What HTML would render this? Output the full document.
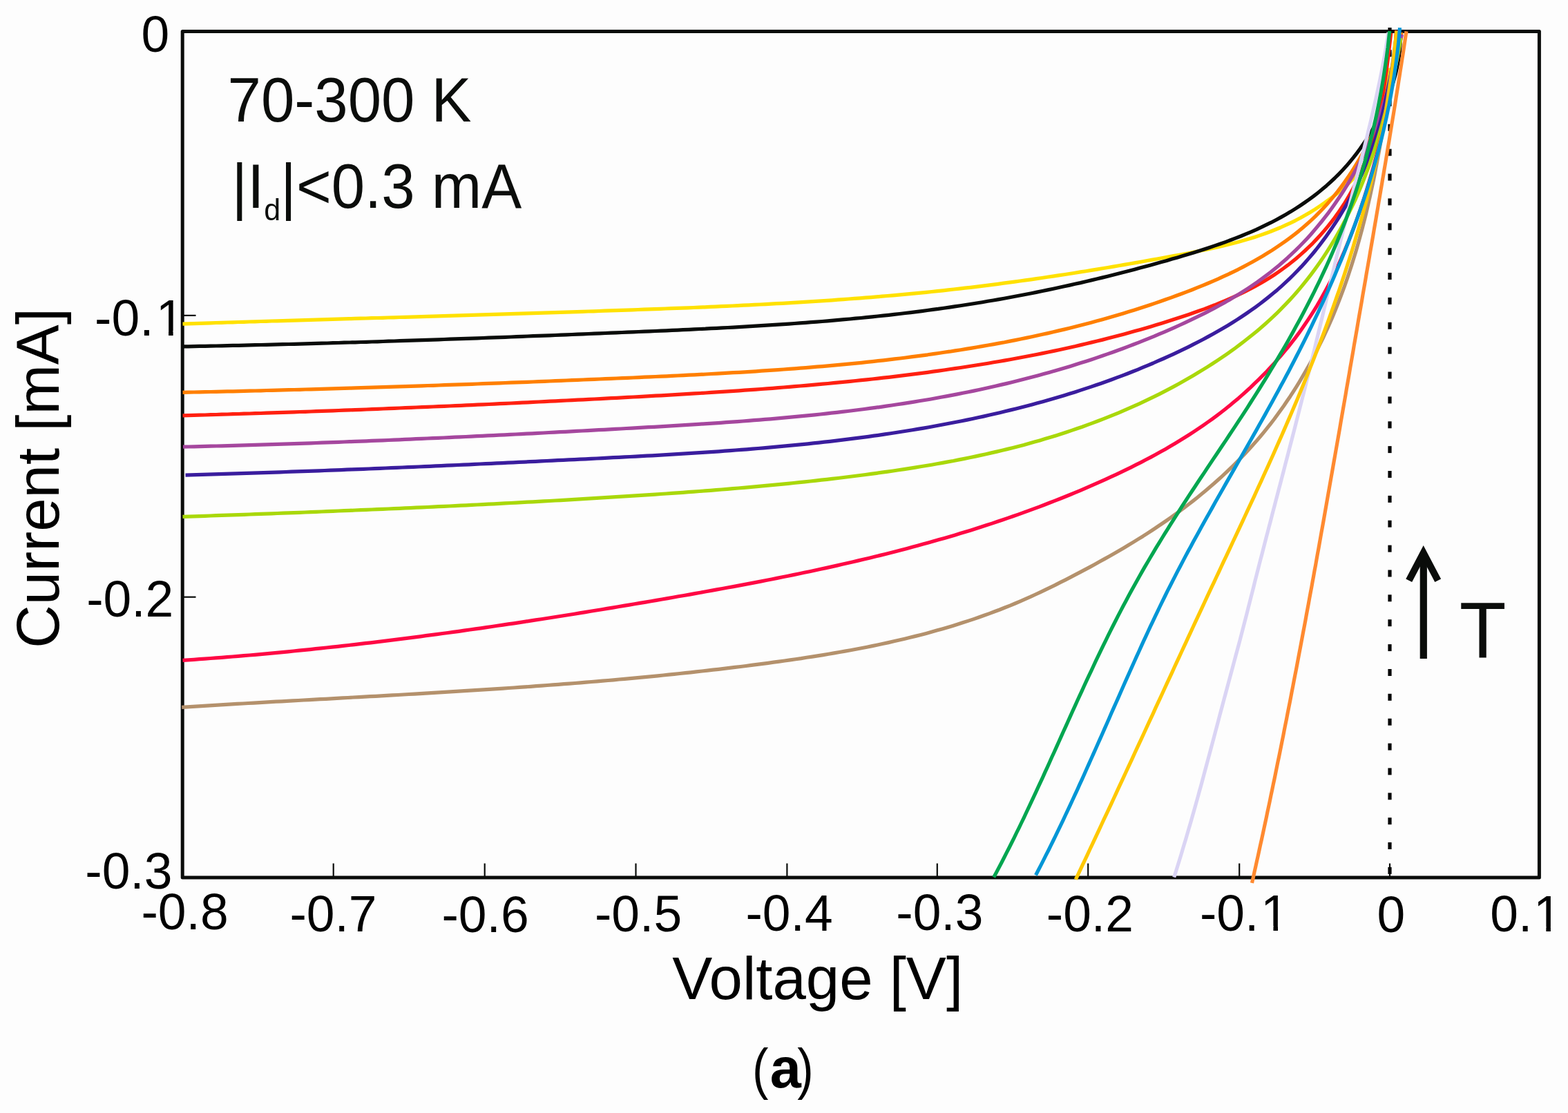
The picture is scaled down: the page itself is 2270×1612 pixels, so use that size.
<!DOCTYPE html>
<html lang="en"><head><meta charset="utf-8"><title>I-V curves 70-300 K</title>
<style>html,body{margin:0;padding:0;background:#fdfdfd;overflow:hidden}svg{display:block}text{font-family:"Liberation Sans",Arial,Helvetica,sans-serif;fill:#000}.t{font-size:73.2px}.l{font-size:87px}.in{fill:#0b0d0b}.c{fill:none;stroke-width:5.2;stroke-linecap:butt;stroke-linejoin:round}.ax{stroke:#0a0c0a;fill:none}</style></head><body>
<svg xmlns="http://www.w3.org/2000/svg" width="2270" height="1612" viewBox="0 0 2270 1612">
<rect x="0" y="0" width="2270" height="1612" fill="#fdfdfd"/>
<g class="ax">
<rect x="264.2" y="45.5" width="1964.2" height="1225.6" stroke-width="5" stroke-linejoin="round"/>
<line x1="482.7" y1="1250.5" x2="482.7" y2="1270" stroke-width="2.2"/>
<line x1="701.7" y1="1250.5" x2="701.7" y2="1270" stroke-width="2.2"/>
<line x1="920.5" y1="1250.5" x2="920.5" y2="1270" stroke-width="2.2"/>
<line x1="1139.4" y1="1250.5" x2="1139.4" y2="1270" stroke-width="2.2"/>
<line x1="1356.8" y1="1250.5" x2="1356.8" y2="1270" stroke-width="2.2"/>
<line x1="1575.2" y1="1250.5" x2="1575.2" y2="1270" stroke-width="2.2"/>
<line x1="1794.2" y1="1250.5" x2="1794.2" y2="1270" stroke-width="2.2"/>
<line x1="2012" y1="1250.5" x2="2012" y2="1270" stroke-width="2.2"/>
<line x1="264" y1="456.9" x2="283.5" y2="456.9" stroke-width="2.2"/>
<line x1="264" y1="864.7" x2="283.5" y2="864.7" stroke-width="2.2"/>
</g>
<g fill="#050505">
<rect x="2009.4" y="40" width="5.2" height="6.3"/>
<rect x="2009.4" y="72.2" width="5.2" height="10"/>
<rect x="2009.4" y="108.1" width="5.2" height="10"/>
<rect x="2009.4" y="143.9" width="5.2" height="10"/>
<rect x="2009.4" y="179.8" width="5.2" height="10"/>
<rect x="2009.4" y="215.7" width="5.2" height="10"/>
<rect x="2009.4" y="251.6" width="5.2" height="10"/>
<rect x="2009.4" y="287.4" width="5.2" height="10"/>
<rect x="2009.4" y="323.3" width="5.2" height="10"/>
<rect x="2009.4" y="359.2" width="5.2" height="10"/>
<rect x="2009.4" y="395.0" width="5.2" height="10"/>
<rect x="2009.4" y="430.9" width="5.2" height="10"/>
<rect x="2009.4" y="466.8" width="5.2" height="10"/>
<rect x="2009.4" y="502.6" width="5.2" height="10"/>
<rect x="2009.4" y="538.5" width="5.2" height="10"/>
<rect x="2009.4" y="574.4" width="5.2" height="10"/>
<rect x="2009.4" y="610.3" width="5.2" height="10"/>
<rect x="2009.4" y="646.1" width="5.2" height="10"/>
<rect x="2009.4" y="682.0" width="5.2" height="10"/>
<rect x="2009.4" y="717.9" width="5.2" height="10"/>
<rect x="2009.4" y="753.7" width="5.2" height="10"/>
<rect x="2009.4" y="789.6" width="5.2" height="10"/>
<rect x="2009.4" y="825.5" width="5.2" height="10"/>
<rect x="2009.4" y="861.3" width="5.2" height="10"/>
<rect x="2009.4" y="897.2" width="5.2" height="10"/>
<rect x="2009.4" y="933.1" width="5.2" height="10"/>
<rect x="2009.4" y="969.0" width="5.2" height="10"/>
<rect x="2009.4" y="1004.8" width="5.2" height="10"/>
<rect x="2009.4" y="1040.7" width="5.2" height="10"/>
<rect x="2009.4" y="1076.6" width="5.2" height="10"/>
<rect x="2009.4" y="1112.4" width="5.2" height="10"/>
<rect x="2009.4" y="1148.3" width="5.2" height="10"/>
<rect x="2009.4" y="1184.2" width="5.2" height="10"/>
<rect x="2009.4" y="1220.0" width="5.2" height="10"/>
<rect x="2009.4" y="1255.9" width="5.2" height="10"/>
</g>
<g class="c">
<path stroke="#FFE100" d="M264.5,469.1L272.5,468.8L280.6,468.6L288.6,468.3L296.7,468.1L304.7,467.8L312.7,467.5L320.8,467.3L328.8,467.0L336.9,466.8L344.9,466.5L352.9,466.3L361.0,466.0L369.0,465.8L377.1,465.5L385.1,465.3L393.1,465.0L401.2,464.8L409.2,464.6L417.2,464.3L425.3,464.1L433.3,463.8L441.4,463.6L449.4,463.3L457.4,463.1L465.5,462.9L473.5,462.6L481.5,462.4L489.6,462.2L497.6,461.9L505.7,461.7L513.7,461.4L521.7,461.2L529.8,461.0L537.8,460.7L545.8,460.5L553.9,460.3L561.9,460.0L570.0,459.8L578.0,459.5L586.0,459.3L594.1,459.1L602.1,458.8L610.1,458.6L618.2,458.3L626.2,458.1L634.3,457.9L642.3,457.6L650.3,457.4L658.4,457.1L666.4,456.9L674.4,456.7L682.5,456.4L690.5,456.2L698.6,455.9L706.6,455.7L714.6,455.4L722.7,455.2L730.7,454.9L738.7,454.7L746.8,454.4L754.8,454.2L762.9,453.9L770.9,453.7L778.9,453.4L787.0,453.2L795.0,452.9L803.0,452.6L811.1,452.4L819.1,452.1L827.2,451.8L835.2,451.6L843.2,451.3L851.3,451.0L859.3,450.8L867.3,450.5L875.4,450.2L883.4,449.9L891.5,449.7L899.5,449.4L907.5,449.1L915.6,448.8L923.6,448.5L931.7,448.2L939.7,447.9L947.7,447.6L955.8,447.3L963.8,447.0L971.8,446.7L979.9,446.4L987.9,446.1L996.0,445.8L1004.0,445.5L1012.0,445.1L1020.1,444.8L1028.1,444.4L1036.1,444.1L1044.2,443.7L1052.2,443.4L1060.2,443.0L1068.3,442.6L1076.3,442.2L1084.3,441.8L1092.4,441.4L1100.4,441.0L1108.4,440.6L1116.5,440.2L1124.5,439.7L1132.5,439.3L1140.6,438.8L1148.6,438.4L1156.6,437.9L1164.6,437.4L1172.7,436.9L1180.7,436.4L1188.7,435.8L1196.7,435.3L1204.7,434.8L1212.8,434.2L1220.8,433.6L1228.8,433.0L1236.8,432.4L1244.8,431.8L1252.8,431.2L1260.9,430.6L1268.9,429.9L1276.9,429.2L1284.9,428.5L1292.9,427.8L1300.9,427.1L1308.9,426.4L1316.9,425.6L1324.9,424.9L1332.9,424.1L1340.9,423.3L1348.9,422.5L1356.9,421.6L1364.9,420.8L1372.9,419.9L1380.9,419.0L1388.9,418.1L1396.8,417.2L1404.8,416.3L1412.8,415.3L1420.8,414.3L1428.8,413.3L1436.7,412.3L1444.7,411.3L1452.7,410.2L1460.7,409.2L1468.6,408.1L1476.6,407.0L1484.6,405.9L1492.5,404.8L1500.5,403.6L1508.5,402.5L1516.4,401.3L1524.4,400.1L1532.4,398.9L1540.3,397.7L1548.3,396.5L1556.2,395.2L1564.2,393.9L1572.1,392.7L1580.1,391.4L1588.0,390.1L1596.0,388.8L1603.9,387.5L1611.9,386.1L1619.8,384.8L1627.7,383.4L1635.7,382.0L1643.6,380.6L1651.6,379.2L1659.5,377.8L1667.4,376.4L1675.4,375.0L1683.3,373.5L1691.2,372.1L1699.1,370.6L1707.1,369.2L1715.0,367.7L1722.9,366.2L1730.8,364.6L1738.7,363.0L1746.6,361.4L1754.4,359.7L1762.3,358.0L1770.1,356.2L1777.9,354.3L1785.7,352.3L1793.4,350.2L1801.1,348.0L1808.8,345.8L1816.4,343.4L1824.0,340.9L1831.5,338.2L1839.0,335.5L1846.4,332.5L1853.8,329.5L1861.1,326.2L1868.4,322.8L1875.6,319.3L1882.8,315.5L1889.8,311.6L1896.8,307.4L1903.8,303.1L1910.6,298.6L1917.4,293.9L1924.0,289.1L1930.6,284.3L1937.0,279.2L1943.1,274.1L1949.1,268.7L1954.8,263.2L1960.2,257.5L1965.3,251.5L1970.0,245.4L1974.4,239.0L1978.5,232.3L1982.3,225.5L1985.7,218.5L1988.9,211.2L1991.7,203.8L1994.3,196.1L1996.5,188.3L1998.5,180.4L2000.3,172.3L2001.9,164.1L2003.4,155.8L2004.7,147.6L2005.9,139.3L2007.1,131.0L2008.2,122.8L2009.2,114.6L2010.3,106.6L2011.5,98.7"/>
<path stroke="#0A0C0A" d="M264.5,501.9L272.6,501.8L280.6,501.6L288.7,501.4L296.8,501.3L304.9,501.1L312.9,501.0L321.0,500.8L329.0,500.6L337.1,500.4L345.2,500.3L353.2,500.1L361.3,499.9L369.4,499.7L377.4,499.5L385.5,499.3L393.5,499.1L401.6,498.9L409.6,498.7L417.7,498.5L425.7,498.3L433.8,498.1L441.8,497.9L449.9,497.6L457.9,497.4L466.0,497.2L474.0,497.0L482.1,496.7L490.1,496.5L498.2,496.2L506.2,496.0L514.3,495.8L522.3,495.5L530.4,495.3L538.4,495.0L546.5,494.8L554.5,494.5L562.5,494.2L570.6,494.0L578.6,493.7L586.7,493.4L594.7,493.2L602.8,492.9L610.8,492.6L618.8,492.4L626.9,492.1L634.9,491.8L643.0,491.5L651.0,491.2L659.1,490.9L667.1,490.7L675.1,490.4L683.2,490.1L691.2,489.8L699.3,489.5L707.3,489.2L715.3,488.9L723.4,488.6L731.4,488.3L739.5,488.0L747.5,487.7L755.6,487.3L763.6,487.0L771.6,486.7L779.7,486.4L787.7,486.1L795.8,485.8L803.8,485.5L811.9,485.1L819.9,484.8L828.0,484.5L836.0,484.2L844.1,483.8L852.1,483.5L860.2,483.2L868.2,482.8L876.3,482.5L884.3,482.2L892.4,481.9L900.4,481.5L908.5,481.2L916.5,480.8L924.6,480.5L932.6,480.2L940.7,479.8L948.8,479.5L956.8,479.1L964.9,478.8L972.9,478.4L981.0,478.1L989.0,477.7L997.1,477.3L1005.2,476.9L1013.2,476.5L1021.3,476.2L1029.3,475.7L1037.4,475.3L1045.4,474.9L1053.5,474.5L1061.5,474.1L1069.6,473.6L1077.7,473.2L1085.7,472.7L1093.8,472.2L1101.8,471.7L1109.9,471.2L1117.9,470.7L1125.9,470.2L1134.0,469.6L1142.0,469.1L1150.1,468.5L1158.1,467.9L1166.2,467.3L1174.2,466.7L1182.2,466.1L1190.3,465.5L1198.3,464.8L1206.3,464.1L1214.3,463.4L1222.4,462.7L1230.4,462.0L1238.4,461.2L1246.4,460.5L1254.4,459.7L1262.4,458.8L1270.5,458.0L1278.5,457.2L1286.5,456.3L1294.5,455.4L1302.5,454.5L1310.5,453.5L1318.4,452.6L1326.4,451.6L1334.4,450.6L1342.4,449.5L1350.4,448.4L1358.3,447.4L1366.3,446.2L1374.3,445.1L1382.2,443.9L1390.2,442.7L1398.1,441.5L1406.1,440.3L1414.0,439.0L1422.0,437.7L1429.9,436.3L1437.9,435.0L1445.8,433.6L1453.7,432.2L1461.6,430.7L1469.5,429.3L1477.5,427.8L1485.4,426.2L1493.3,424.7L1501.2,423.1L1509.0,421.5L1516.9,419.9L1524.8,418.2L1532.7,416.5L1540.6,414.8L1548.4,413.1L1556.3,411.3L1564.2,409.6L1572.0,407.7L1579.9,405.9L1587.7,404.0L1595.5,402.1L1603.4,400.2L1611.2,398.3L1619.0,396.3L1626.8,394.3L1634.7,392.3L1642.5,390.2L1650.3,388.1L1658.1,386.0L1665.8,383.9L1673.6,381.7L1681.4,379.6L1689.2,377.4L1696.9,375.1L1704.7,372.9L1712.5,370.6L1720.2,368.2L1727.9,365.9L1735.6,363.5L1743.3,361.0L1751.0,358.5L1758.6,355.9L1766.3,353.3L1773.9,350.6L1781.4,347.8L1788.9,344.9L1796.4,342.0L1803.8,338.9L1811.2,335.8L1818.6,332.6L1825.9,329.2L1833.1,325.7L1840.3,322.2L1847.4,318.5L1854.5,314.6L1861.4,310.7L1868.4,306.6L1875.2,302.4L1882.0,298.0L1888.6,293.5L1895.2,288.9L1901.7,284.1L1908.0,279.2L1914.3,274.1L1920.4,268.9L1926.4,263.5L1932.3,258.0L1938.0,252.3L1943.6,246.5L1949.0,240.6L1954.2,234.5L1959.4,228.2L1964.3,221.8L1969.1,215.3L1973.8,208.6L1978.3,201.9L1982.6,195.0L1986.8,188.0L1990.8,180.9L1994.7,173.8L1998.4,166.5L2001.9,159.2L2005.2,151.8L2008.3,144.3L2011.2,136.7L2013.9,129.0L2016.4,121.3L2018.6,113.6L2020.7,105.8L2022.4,97.9L2024.0,90.0L2025.3,82.1L2026.3,74.1L2027.0,66.1L2027.5,58.1L2027.7,50.0"/>
<path stroke="#FF7F00" d="M264.5,568.4L272.6,568.2L280.7,568.0L288.8,567.9L296.9,567.7L304.9,567.5L313.0,567.3L321.1,567.1L329.2,566.9L337.3,566.8L345.3,566.6L353.4,566.4L361.5,566.2L369.5,566.0L377.6,565.8L385.7,565.5L393.7,565.3L401.8,565.1L409.9,564.9L417.9,564.7L426.0,564.5L434.0,564.3L442.1,564.0L450.1,563.8L458.2,563.6L466.2,563.3L474.3,563.1L482.3,562.9L490.4,562.6L498.4,562.4L506.5,562.2L514.5,561.9L522.6,561.7L530.6,561.4L538.7,561.2L546.7,560.9L554.7,560.7L562.8,560.4L570.8,560.2L578.9,559.9L586.9,559.6L594.9,559.4L603.0,559.1L611.0,558.8L619.1,558.5L627.1,558.3L635.1,558.0L643.2,557.7L651.2,557.4L659.2,557.2L667.3,556.9L675.3,556.6L683.4,556.3L691.4,556.0L699.4,555.7L707.5,555.4L715.5,555.1L723.5,554.8L731.6,554.5L739.6,554.2L747.7,553.9L755.7,553.6L763.8,553.3L771.8,553.0L779.8,552.6L787.9,552.3L795.9,552.0L804.0,551.7L812.0,551.4L820.1,551.0L828.1,550.7L836.2,550.4L844.2,550.0L852.3,549.7L860.3,549.4L868.4,549.0L876.4,548.7L884.5,548.3L892.5,548.0L900.6,547.7L908.7,547.3L916.7,547.0L924.8,546.6L932.9,546.2L940.9,545.9L949.0,545.5L957.0,545.1L965.1,544.8L973.2,544.4L981.3,544.0L989.3,543.6L997.4,543.2L1005.5,542.8L1013.5,542.4L1021.6,542.0L1029.7,541.5L1037.7,541.1L1045.8,540.7L1053.9,540.2L1061.9,539.7L1070.0,539.3L1078.1,538.8L1086.1,538.3L1094.2,537.8L1102.3,537.2L1110.3,536.7L1118.4,536.2L1126.4,535.6L1134.5,535.0L1142.6,534.4L1150.6,533.8L1158.7,533.2L1166.7,532.6L1174.8,531.9L1182.8,531.2L1190.8,530.6L1198.9,529.9L1206.9,529.1L1215.0,528.4L1223.0,527.6L1231.0,526.9L1239.0,526.1L1247.1,525.3L1255.1,524.4L1263.1,523.6L1271.1,522.7L1279.1,521.8L1287.1,520.9L1295.1,519.9L1303.1,519.0L1311.1,518.0L1319.1,516.9L1327.1,515.9L1335.1,514.8L1343.0,513.8L1351.0,512.6L1359.0,511.5L1366.9,510.3L1374.9,509.2L1382.9,507.9L1390.8,506.7L1398.7,505.4L1406.7,504.1L1414.6,502.8L1422.5,501.4L1430.4,500.0L1438.4,498.6L1446.3,497.1L1454.2,495.7L1462.1,494.1L1469.9,492.6L1477.8,491.0L1485.7,489.4L1493.6,487.7L1501.4,486.0L1509.3,484.3L1517.1,482.6L1525.0,480.8L1532.8,478.9L1540.6,477.1L1548.4,475.2L1556.2,473.2L1564.0,471.2L1571.8,469.2L1579.6,467.2L1587.4,465.1L1595.1,462.9L1602.9,460.7L1610.6,458.5L1618.4,456.2L1626.1,453.9L1633.8,451.6L1641.5,449.2L1649.2,446.7L1656.9,444.2L1664.6,441.7L1672.3,439.1L1679.9,436.5L1687.6,433.8L1695.2,431.1L1702.9,428.3L1710.5,425.5L1718.1,422.6L1725.7,419.7L1733.2,416.7L1740.8,413.6L1748.3,410.5L1755.7,407.3L1763.2,404.1L1770.6,400.7L1777.9,397.3L1785.2,393.8L1792.4,390.3L1799.6,386.6L1806.8,382.8L1813.8,379.0L1820.8,375.0L1827.8,371.0L1834.6,366.8L1841.4,362.6L1848.1,358.2L1854.7,353.7L1861.2,349.1L1867.7,344.4L1874.0,339.6L1880.3,334.6L1886.4,329.5L1892.4,324.3L1898.4,318.9L1904.2,313.4L1909.9,307.7L1915.4,302.0L1920.9,296.0L1926.2,289.9L1931.4,283.7L1936.5,277.4L1941.4,270.9L1946.2,264.3L1950.9,257.6L1955.5,250.8L1959.9,243.9L1964.2,236.9L1968.4,229.8L1972.5,222.6L1976.4,215.3L1980.2,208.0L1983.8,200.6L1987.4,193.2L1990.7,185.6L1994.0,178.1L1997.1,170.5L2000.1,162.8L2003.0,155.1L2005.7,147.4L2008.2,139.7L2010.7,131.9L2013.0,124.2L2015.2,116.4L2017.2,108.7L2019.1,100.9L2020.9,93.2L2022.5,85.4L2024.0,77.7L2025.5,70.0L2026.7,62.3L2027.9,54.6L2029.0,47.0"/>
<path stroke="#FF2010" d="M264.5,601.9L272.6,601.7L280.6,601.4L288.7,601.2L296.8,601.0L304.9,600.7L312.9,600.5L321.0,600.2L329.1,600.0L337.1,599.7L345.2,599.5L353.3,599.2L361.3,599.0L369.4,598.7L377.4,598.5L385.5,598.2L393.6,597.9L401.6,597.7L409.7,597.4L417.7,597.1L425.8,596.8L433.9,596.5L441.9,596.3L450.0,596.0L458.0,595.7L466.1,595.4L474.1,595.1L482.2,594.8L490.2,594.5L498.3,594.2L506.3,593.9L514.4,593.6L522.4,593.3L530.5,593.0L538.6,592.7L546.6,592.3L554.7,592.0L562.7,591.7L570.8,591.4L578.8,591.0L586.9,590.7L594.9,590.4L602.9,590.0L611.0,589.7L619.0,589.4L627.1,589.0L635.1,588.7L643.2,588.3L651.2,588.0L659.3,587.6L667.3,587.3L675.4,586.9L683.4,586.6L691.5,586.2L699.5,585.8L707.6,585.5L715.6,585.1L723.7,584.7L731.7,584.3L739.8,584.0L747.8,583.6L755.9,583.2L763.9,582.8L772.0,582.4L780.0,582.0L788.1,581.6L796.1,581.2L804.2,580.8L812.2,580.4L820.3,580.0L828.3,579.6L836.4,579.2L844.4,578.8L852.5,578.4L860.5,578.0L868.6,577.6L876.6,577.1L884.7,576.7L892.7,576.3L900.8,575.9L908.9,575.4L916.9,575.0L925.0,574.6L933.0,574.1L941.1,573.7L949.1,573.2L957.2,572.8L965.2,572.3L973.3,571.9L981.4,571.4L989.4,570.9L997.5,570.4L1005.5,569.9L1013.6,569.5L1021.6,569.0L1029.7,568.4L1037.8,567.9L1045.8,567.4L1053.9,566.9L1061.9,566.3L1070.0,565.8L1078.0,565.2L1086.1,564.7L1094.1,564.1L1102.2,563.5L1110.2,562.9L1118.3,562.3L1126.3,561.6L1134.3,561.0L1142.4,560.4L1150.4,559.7L1158.5,559.0L1166.5,558.3L1174.5,557.6L1182.6,556.9L1190.6,556.2L1198.6,555.5L1206.7,554.7L1214.7,553.9L1222.7,553.2L1230.7,552.4L1238.8,551.5L1246.8,550.7L1254.8,549.8L1262.8,549.0L1270.8,548.1L1278.8,547.2L1286.8,546.3L1294.8,545.3L1302.8,544.4L1310.8,543.4L1318.8,542.4L1326.8,541.4L1334.8,540.3L1342.8,539.3L1350.8,538.2L1358.7,537.1L1366.7,536.0L1374.7,534.8L1382.7,533.7L1390.6,532.5L1398.6,531.3L1406.5,530.0L1414.5,528.8L1422.4,527.5L1430.4,526.2L1438.3,524.8L1446.3,523.5L1454.2,522.1L1462.1,520.7L1470.0,519.3L1478.0,517.8L1485.9,516.3L1493.8,514.8L1501.7,513.2L1509.6,511.6L1517.5,510.0L1525.4,508.4L1533.2,506.7L1541.1,505.0L1549.0,503.2L1556.9,501.5L1564.7,499.6L1572.6,497.8L1580.4,495.9L1588.2,494.0L1596.1,492.1L1603.9,490.1L1611.7,488.1L1619.5,486.0L1627.3,483.9L1635.1,481.8L1642.9,479.6L1650.7,477.4L1658.5,475.2L1666.2,472.9L1674.0,470.5L1681.7,468.2L1689.5,465.8L1697.2,463.3L1704.9,460.8L1712.7,458.3L1720.4,455.7L1728.0,453.0L1735.7,450.3L1743.3,447.6L1750.9,444.7L1758.5,441.8L1766.0,438.7L1773.4,435.6L1780.8,432.4L1788.2,429.1L1795.5,425.7L1802.7,422.1L1809.9,418.5L1817.0,414.7L1824.0,410.8L1830.9,406.7L1837.8,402.5L1844.5,398.2L1851.2,393.7L1857.7,389.0L1864.2,384.2L1870.5,379.3L1876.7,374.2L1882.8,368.9L1888.8,363.5L1894.7,357.9L1900.5,352.3L1906.1,346.4L1911.5,340.5L1916.9,334.4L1922.1,328.2L1927.1,321.9L1932.0,315.5L1936.8,308.9L1941.3,302.3L1945.8,295.5L1950.0,288.6L1954.1,281.6L1958.0,274.6L1961.7,267.4L1965.3,260.1L1968.7,252.8L1971.9,245.4L1975.0,237.8L1977.9,230.3L1980.6,222.6L1983.2,214.9L1985.7,207.2L1988.0,199.4L1990.2,191.5L1992.3,183.6L1994.2,175.7L1996.0,167.7L1997.7,159.7L1999.3,151.7L2000.8,143.7L2002.2,135.6L2003.5,127.6L2004.7,119.5L2005.9,111.4L2007.0,103.4L2008.1,95.4L2009.1,87.3L2010.1,79.3L2011.0,71.3L2011.9,63.4L2012.8,55.5L2013.7,47.6"/>
<path stroke="#A5479E" d="M265.0,647.2L273.1,647.0L281.1,646.8L289.2,646.6L297.2,646.4L305.2,646.2L313.3,646.0L321.3,645.8L329.4,645.6L337.4,645.3L345.5,645.1L353.5,644.9L361.5,644.6L369.6,644.4L377.6,644.2L385.6,643.9L393.7,643.7L401.7,643.4L409.7,643.1L417.8,642.9L425.8,642.6L433.8,642.3L441.8,642.1L449.9,641.8L457.9,641.5L465.9,641.2L473.9,640.9L481.9,640.6L490.0,640.3L498.0,640.0L506.0,639.7L514.0,639.4L522.0,639.1L530.1,638.8L538.1,638.4L546.1,638.1L554.1,637.8L562.1,637.5L570.1,637.1L578.1,636.8L586.2,636.4L594.2,636.1L602.2,635.7L610.2,635.4L618.2,635.0L626.2,634.7L634.2,634.3L642.3,634.0L650.3,633.6L658.3,633.2L666.3,632.9L674.3,632.5L682.3,632.1L690.3,631.7L698.3,631.3L706.3,630.9L714.4,630.6L722.4,630.2L730.4,629.8L738.4,629.4L746.4,629.0L754.4,628.6L762.4,628.2L770.5,627.8L778.5,627.4L786.5,627.0L794.5,626.5L802.5,626.1L810.5,625.7L818.6,625.3L826.6,624.9L834.6,624.4L842.6,624.0L850.6,623.6L858.7,623.2L866.7,622.7L874.7,622.3L882.7,621.9L890.8,621.4L898.8,621.0L906.8,620.5L914.8,620.1L922.9,619.6L930.9,619.2L938.9,618.7L946.9,618.3L955.0,617.8L963.0,617.4L971.0,616.9L979.1,616.4L987.1,615.9L995.1,615.4L1003.2,614.9L1011.2,614.4L1019.2,613.9L1027.2,613.4L1035.3,612.8L1043.3,612.3L1051.3,611.7L1059.4,611.2L1067.4,610.6L1075.4,610.0L1083.4,609.4L1091.4,608.7L1099.5,608.1L1107.5,607.4L1115.5,606.8L1123.5,606.1L1131.5,605.4L1139.5,604.7L1147.5,603.9L1155.5,603.2L1163.5,602.4L1171.5,601.6L1179.5,600.8L1187.5,600.0L1195.5,599.1L1203.5,598.2L1211.5,597.3L1219.4,596.4L1227.4,595.5L1235.4,594.5L1243.3,593.5L1251.3,592.5L1259.3,591.4L1267.2,590.4L1275.2,589.3L1283.1,588.2L1291.1,587.0L1299.0,585.8L1306.9,584.6L1314.9,583.4L1322.8,582.1L1330.7,580.8L1338.6,579.5L1346.5,578.2L1354.4,576.8L1362.3,575.3L1370.2,573.9L1378.1,572.4L1386.0,570.9L1393.8,569.3L1401.7,567.7L1409.6,566.1L1417.4,564.5L1425.3,562.8L1433.1,561.0L1440.9,559.3L1448.8,557.4L1456.6,555.6L1464.4,553.7L1472.2,551.8L1480.0,549.8L1487.7,547.8L1495.5,545.8L1503.3,543.7L1511.0,541.6L1518.7,539.4L1526.5,537.2L1534.2,535.0L1541.9,532.7L1549.6,530.4L1557.2,528.0L1564.9,525.6L1572.5,523.2L1580.2,520.7L1587.8,518.1L1595.4,515.5L1603.0,512.9L1610.6,510.2L1618.1,507.5L1625.7,504.7L1633.2,501.9L1640.7,499.0L1648.3,496.1L1655.7,493.1L1663.2,490.1L1670.7,487.1L1678.1,483.9L1685.5,480.8L1692.9,477.6L1700.3,474.3L1707.6,471.0L1715.0,467.6L1722.3,464.2L1729.6,460.7L1736.8,457.2L1744.1,453.6L1751.2,449.9L1758.4,446.1L1765.5,442.3L1772.5,438.4L1779.5,434.4L1786.4,430.3L1793.3,426.2L1800.1,421.9L1806.8,417.6L1813.5,413.1L1820.1,408.6L1826.6,403.9L1833.0,399.2L1839.4,394.3L1845.6,389.3L1851.8,384.2L1857.8,379.0L1863.8,373.7L1869.7,368.2L1875.5,362.7L1881.2,357.0L1886.8,351.3L1892.3,345.4L1897.7,339.5L1902.9,333.4L1908.1,327.2L1913.2,321.0L1918.2,314.7L1923.1,308.3L1927.9,301.8L1932.5,295.2L1937.1,288.5L1941.6,281.8L1945.9,275.0L1950.2,268.1L1954.3,261.1L1958.4,254.1L1962.3,247.1L1966.1,239.9L1969.8,232.8L1973.4,225.5L1976.9,218.2L1980.2,210.9L1983.5,203.5L1986.6,196.1L1989.6,188.6L1992.5,181.1L1995.3,173.5L1998.0,166.0L2000.6,158.4L2003.0,150.7L2005.4,143.1L2007.7,135.4L2009.9,127.7L2012.0,119.9L2014.1,112.2L2016.1,104.4L2018.1,96.7L2020.0,88.9L2021.9,81.1L2023.8,73.3L2025.7,65.6L2027.6,57.8L2029.5,50.0"/>
<path stroke="#3A1D9E" d="M268.5,688.1L276.6,687.9L284.6,687.6L292.7,687.4L300.8,687.2L308.8,686.9L316.9,686.7L325.0,686.4L333.0,686.2L341.1,685.9L349.1,685.7L357.2,685.4L365.3,685.2L373.3,684.9L381.4,684.6L389.4,684.4L397.5,684.1L405.5,683.8L413.6,683.5L421.6,683.2L429.7,682.9L437.7,682.7L445.8,682.4L453.8,682.1L461.8,681.8L469.9,681.5L477.9,681.2L486.0,680.9L494.0,680.6L502.1,680.2L510.1,679.9L518.1,679.6L526.2,679.3L534.2,679.0L542.3,678.6L550.3,678.3L558.3,678.0L566.4,677.7L574.4,677.3L582.4,677.0L590.5,676.6L598.5,676.3L606.5,676.0L614.6,675.6L622.6,675.3L630.6,674.9L638.7,674.6L646.7,674.2L654.8,673.9L662.8,673.5L670.8,673.1L678.9,672.8L686.9,672.4L694.9,672.0L703.0,671.7L711.0,671.3L719.0,670.9L727.1,670.6L735.1,670.2L743.2,669.8L751.2,669.4L759.2,669.1L767.3,668.7L775.3,668.3L783.4,667.9L791.4,667.5L799.4,667.1L807.5,666.7L815.5,666.3L823.6,665.9L831.6,665.6L839.7,665.2L847.7,664.8L855.8,664.4L863.8,664.0L871.8,663.6L879.9,663.2L887.9,662.7L896.0,662.3L904.1,661.9L912.1,661.5L920.2,661.1L928.2,660.6L936.3,660.2L944.3,659.8L952.4,659.3L960.4,658.9L968.5,658.4L976.5,657.9L984.6,657.4L992.6,656.9L1000.7,656.4L1008.7,655.9L1016.8,655.4L1024.8,654.9L1032.9,654.3L1040.9,653.8L1048.9,653.2L1057.0,652.6L1065.0,652.0L1073.1,651.4L1081.1,650.8L1089.1,650.1L1097.2,649.5L1105.2,648.8L1113.2,648.1L1121.2,647.4L1129.3,646.7L1137.3,645.9L1145.3,645.2L1153.3,644.4L1161.3,643.6L1169.4,642.8L1177.4,641.9L1185.4,641.1L1193.4,640.2L1201.4,639.3L1209.4,638.3L1217.4,637.4L1225.4,636.4L1233.3,635.4L1241.3,634.4L1249.3,633.3L1257.3,632.3L1265.2,631.2L1273.2,630.1L1281.2,628.9L1289.1,627.7L1297.1,626.5L1305.0,625.3L1313.0,624.0L1320.9,622.7L1328.9,621.4L1336.8,620.1L1344.7,618.7L1352.6,617.3L1360.6,615.8L1368.5,614.3L1376.4,612.8L1384.3,611.3L1392.2,609.7L1400.1,608.1L1408.0,606.5L1415.8,604.8L1423.7,603.1L1431.6,601.3L1439.4,599.5L1447.3,597.7L1455.1,595.8L1462.9,593.9L1470.8,592.0L1478.6,590.0L1486.4,588.0L1494.1,585.9L1501.9,583.8L1509.7,581.7L1517.4,579.5L1525.2,577.3L1532.9,575.0L1540.6,572.7L1548.3,570.3L1556.0,567.9L1563.7,565.4L1571.3,562.9L1579.0,560.4L1586.6,557.8L1594.2,555.2L1601.8,552.5L1609.4,549.7L1616.9,546.9L1624.5,544.1L1632.0,541.2L1639.5,538.3L1647.0,535.3L1654.4,532.2L1661.9,529.1L1669.3,526.0L1676.7,522.7L1684.1,519.5L1691.5,516.2L1698.8,512.8L1706.1,509.4L1713.4,505.9L1720.7,502.3L1727.9,498.7L1735.1,495.0L1742.3,491.3L1749.4,487.4L1756.5,483.5L1763.5,479.6L1770.5,475.5L1777.4,471.4L1784.2,467.2L1791.1,462.9L1797.8,458.5L1804.5,454.0L1811.1,449.4L1817.6,444.8L1824.1,440.0L1830.4,435.1L1836.7,430.1L1842.9,425.1L1849.1,419.9L1855.1,414.6L1861.0,409.2L1866.9,403.6L1872.6,398.0L1878.2,392.3L1883.8,386.4L1889.2,380.4L1894.5,374.4L1899.8,368.2L1904.9,362.0L1909.9,355.6L1914.8,349.2L1919.6,342.7L1924.3,336.1L1928.9,329.4L1933.4,322.6L1937.8,315.8L1942.0,308.9L1946.2,301.9L1950.2,294.9L1954.1,287.8L1957.9,280.6L1961.6,273.4L1965.2,266.1L1968.7,258.8L1972.0,251.4L1975.2,244.0L1978.3,236.5L1981.3,229.0L1984.2,221.5L1986.9,213.9L1989.5,206.3L1992.0,198.7L1994.4,191.0L1996.6,183.3L1998.7,175.7L2000.7,167.9L2002.6,160.2L2004.3,152.5L2006.0,144.7L2007.6,136.9L2009.2,129.1L2010.7,121.3L2012.3,113.5L2013.8,105.6L2015.3,97.7L2016.9,89.8L2018.5,81.9L2020.3,74.0L2022.1,66.0L2024.0,58.0L2026.0,50.0"/>
<path stroke="#A9D80A" d="M264.5,748.4L272.6,748.1L280.6,747.8L288.7,747.6L296.7,747.3L304.8,747.0L312.8,746.7L320.9,746.4L328.9,746.1L337.0,745.9L345.1,745.6L353.1,745.3L361.2,745.0L369.2,744.7L377.3,744.4L385.3,744.1L393.4,743.8L401.4,743.5L409.5,743.2L417.5,742.9L425.6,742.6L433.6,742.3L441.6,742.0L449.7,741.6L457.7,741.3L465.8,741.0L473.8,740.7L481.9,740.4L489.9,740.0L498.0,739.7L506.0,739.4L514.0,739.0L522.1,738.7L530.1,738.4L538.2,738.0L546.2,737.7L554.3,737.3L562.3,737.0L570.3,736.6L578.4,736.3L586.4,735.9L594.5,735.6L602.5,735.2L610.5,734.8L618.6,734.5L626.6,734.1L634.7,733.7L642.7,733.3L650.7,733.0L658.8,732.6L666.8,732.2L674.9,731.8L682.9,731.4L690.9,731.0L699.0,730.6L707.0,730.2L715.1,729.8L723.1,729.4L731.1,728.9L739.2,728.5L747.2,728.1L755.3,727.7L763.3,727.2L771.3,726.8L779.4,726.4L787.4,725.9L795.5,725.5L803.5,725.0L811.5,724.6L819.6,724.1L827.6,723.6L835.6,723.2L843.7,722.7L851.7,722.2L859.8,721.7L867.8,721.2L875.9,720.7L883.9,720.2L891.9,719.7L900.0,719.2L908.0,718.7L916.1,718.2L924.1,717.7L932.1,717.2L940.2,716.6L948.2,716.1L956.3,715.5L964.3,715.0L972.4,714.4L980.4,713.9L988.4,713.3L996.5,712.7L1004.5,712.1L1012.6,711.5L1020.6,710.9L1028.6,710.3L1036.7,709.6L1044.7,709.0L1052.7,708.3L1060.8,707.7L1068.8,707.0L1076.8,706.3L1084.9,705.6L1092.9,704.9L1100.9,704.2L1108.9,703.4L1117.0,702.7L1125.0,701.9L1133.0,701.1L1141.0,700.3L1149.0,699.5L1157.1,698.7L1165.1,697.9L1173.1,697.0L1181.1,696.1L1189.1,695.2L1197.1,694.3L1205.1,693.4L1213.1,692.5L1221.1,691.5L1229.1,690.5L1237.1,689.5L1245.1,688.5L1253.0,687.5L1261.0,686.4L1269.0,685.3L1277.0,684.2L1284.9,683.1L1292.9,682.0L1300.9,680.8L1308.8,679.6L1316.8,678.4L1324.7,677.1L1332.7,675.8L1340.6,674.5L1348.5,673.2L1356.5,671.8L1364.4,670.4L1372.3,668.9L1380.2,667.5L1388.1,665.9L1396.0,664.4L1403.8,662.8L1411.7,661.1L1419.6,659.4L1427.4,657.7L1435.2,655.9L1443.1,654.1L1450.9,652.3L1458.7,650.4L1466.5,648.4L1474.3,646.4L1482.1,644.4L1489.8,642.2L1497.6,640.1L1505.3,637.9L1513.0,635.6L1520.8,633.3L1528.5,630.9L1536.1,628.5L1543.8,626.0L1551.5,623.4L1559.1,620.8L1566.7,618.2L1574.3,615.4L1581.9,612.6L1589.5,609.8L1597.0,606.9L1604.5,603.9L1612.0,600.9L1619.5,597.8L1626.9,594.6L1634.3,591.4L1641.7,588.1L1649.1,584.8L1656.4,581.4L1663.7,577.9L1671.0,574.4L1678.2,570.8L1685.4,567.1L1692.6,563.4L1699.7,559.6L1706.8,555.7L1713.8,551.8L1720.8,547.8L1727.8,543.7L1734.7,539.6L1741.6,535.4L1748.5,531.1L1755.3,526.8L1762.0,522.4L1768.7,517.9L1775.4,513.3L1782.0,508.7L1788.5,504.0L1794.9,499.2L1801.3,494.3L1807.6,489.3L1813.9,484.3L1820.1,479.2L1826.2,474.0L1832.2,468.7L1838.1,463.3L1844.0,457.9L1849.8,452.3L1855.4,446.7L1861.0,440.9L1866.5,435.1L1871.9,429.2L1877.2,423.2L1882.4,417.1L1887.5,410.9L1892.5,404.6L1897.4,398.3L1902.2,391.9L1907.0,385.3L1911.6,378.8L1916.1,372.1L1920.5,365.4L1924.8,358.6L1929.1,351.7L1933.2,344.8L1937.2,337.8L1941.2,330.7L1945.0,323.6L1948.8,316.4L1952.4,309.2L1956.0,301.9L1959.5,294.6L1962.9,287.3L1966.1,279.9L1969.3,272.4L1972.4,264.9L1975.4,257.4L1978.3,249.9L1981.2,242.3L1983.9,234.7L1986.5,227.0L1989.1,219.4L1991.5,211.7L1993.9,203.9L1996.2,196.2L1998.5,188.5L2000.7,180.7L2002.8,172.9L2004.8,165.1L2006.8,157.3L2008.7,149.4L2010.5,141.6L2012.3,133.7L2014.1,125.9L2015.8,118.0L2017.4,110.1L2019.0,102.3L2020.6,94.4L2022.1,86.5L2023.7,78.6L2025.1,70.7L2026.6,62.9L2028.0,55.0"/>
<path stroke="#FF0844" d="M264.5,956.4L272.5,955.9L280.6,955.3L288.6,954.7L296.7,954.1L304.7,953.5L312.7,952.9L320.7,952.3L328.8,951.7L336.8,951.0L344.8,950.4L352.8,949.7L360.9,949.0L368.9,948.3L376.9,947.6L384.9,946.8L392.9,946.1L400.9,945.4L408.9,944.6L416.9,943.8L425.0,943.0L433.0,942.2L441.0,941.4L449.0,940.6L457.0,939.7L464.9,938.9L472.9,938.0L480.9,937.2L488.9,936.3L496.9,935.4L504.9,934.5L512.9,933.6L520.9,932.7L528.9,931.7L536.8,930.8L544.8,929.8L552.8,928.8L560.8,927.9L568.8,926.9L576.7,925.9L584.7,924.9L592.7,923.9L600.6,922.8L608.6,921.8L616.6,920.7L624.6,919.7L632.5,918.6L640.5,917.5L648.5,916.5L656.4,915.4L664.4,914.3L672.3,913.2L680.3,912.0L688.3,910.9L696.2,909.8L704.2,908.6L712.1,907.5L720.1,906.3L728.0,905.1L736.0,903.9L743.9,902.8L751.9,901.6L759.8,900.4L767.8,899.1L775.7,897.9L783.7,896.7L791.6,895.5L799.6,894.2L807.5,893.0L815.5,891.7L823.4,890.5L831.4,889.2L839.3,887.9L847.3,886.6L855.2,885.3L863.1,884.0L871.1,882.7L879.0,881.4L887.0,880.1L894.9,878.8L902.9,877.4L910.8,876.1L918.7,874.8L926.7,873.4L934.6,872.1L942.5,870.7L950.5,869.4L958.4,868.0L966.4,866.6L974.3,865.2L982.2,863.8L990.2,862.5L998.1,861.1L1006.0,859.6L1014.0,858.2L1021.9,856.8L1029.8,855.4L1037.8,853.9L1045.7,852.5L1053.6,851.0L1061.6,849.6L1069.5,848.1L1077.4,846.6L1085.3,845.1L1093.2,843.6L1101.1,842.1L1109.1,840.5L1117.0,839.0L1124.9,837.4L1132.8,835.8L1140.6,834.2L1148.5,832.6L1156.4,831.0L1164.3,829.3L1172.2,827.7L1180.1,826.0L1187.9,824.3L1195.8,822.6L1203.6,820.9L1211.5,819.1L1219.3,817.3L1227.2,815.5L1235.0,813.7L1242.8,811.9L1250.7,810.0L1258.5,808.2L1266.3,806.3L1274.1,804.4L1281.9,802.4L1289.7,800.5L1297.5,798.5L1305.2,796.4L1313.0,794.4L1320.8,792.3L1328.5,790.3L1336.3,788.1L1344.0,786.0L1351.7,783.8L1359.5,781.6L1367.2,779.4L1374.9,777.2L1382.6,774.9L1390.2,772.6L1397.9,770.2L1405.6,767.9L1413.2,765.5L1420.9,763.0L1428.5,760.6L1436.1,758.1L1443.7,755.5L1451.3,753.0L1458.9,750.4L1466.5,747.7L1474.1,745.1L1481.6,742.4L1489.2,739.6L1496.7,736.9L1504.3,734.1L1511.8,731.2L1519.3,728.3L1526.8,725.4L1534.2,722.5L1541.7,719.5L1549.1,716.5L1556.6,713.4L1564.0,710.3L1571.4,707.1L1578.8,703.9L1586.2,700.7L1593.6,697.4L1600.9,694.1L1608.3,690.7L1615.6,687.3L1622.9,683.9L1630.1,680.4L1637.4,676.8L1644.6,673.2L1651.8,669.6L1659.0,665.8L1666.1,662.1L1673.2,658.2L1680.3,654.3L1687.3,650.4L1694.3,646.3L1701.2,642.2L1708.1,638.1L1715.0,633.8L1721.8,629.5L1728.5,625.1L1735.2,620.7L1741.9,616.1L1748.4,611.5L1755.0,606.8L1761.4,602.1L1767.8,597.2L1774.2,592.2L1780.4,587.2L1786.6,582.1L1792.8,576.9L1798.8,571.6L1804.8,566.2L1810.7,560.8L1816.5,555.2L1822.3,549.6L1828.0,543.9L1833.6,538.2L1839.1,532.3L1844.5,526.4L1849.8,520.4L1855.1,514.3L1860.2,508.2L1865.3,502.0L1870.3,495.7L1875.2,489.3L1880.0,482.9L1884.6,476.4L1889.2,469.8L1893.7,463.1L1898.1,456.4L1902.4,449.6L1906.6,442.8L1910.7,435.8L1914.6,428.9L1918.5,421.8L1922.3,414.7L1926.0,407.6L1929.6,400.4L1933.1,393.1L1936.6,385.8L1939.9,378.5L1943.2,371.1L1946.4,363.7L1949.5,356.3L1952.6,348.8L1955.5,341.2L1958.4,333.7L1961.3,326.1L1964.0,318.5L1966.7,310.9L1969.4,303.3L1971.9,295.6L1974.5,288.0L1976.9,280.3L1979.3,272.6L1981.6,264.8L1983.9,257.1L1986.1,249.4L1988.3,241.6L1990.4,233.8L1992.5,226.1L1994.5,218.3L1996.4,210.5L1998.3,202.7L2000.1,194.8L2001.8,187.0L2003.5,179.2L2005.1,171.3L2006.7,163.4L2008.2,155.6L2009.6,147.7L2011.0,139.8L2012.2,131.9L2013.5,123.9L2014.6,116.0L2015.7,108.0L2016.7,100.1L2017.6,92.1L2018.4,84.1L2019.2,76.1L2019.9,68.1L2020.5,60.1L2021.0,52.0L2021.5,44.0"/>
<path stroke="#B4916C" d="M263.2,1024.3L271.2,1023.8L279.2,1023.3L287.3,1022.8L295.3,1022.3L303.3,1021.8L311.3,1021.3L319.3,1020.9L327.3,1020.4L335.4,1019.9L343.4,1019.4L351.4,1019.0L359.4,1018.5L367.4,1018.1L375.5,1017.6L383.5,1017.1L391.5,1016.7L399.5,1016.2L407.5,1015.8L415.5,1015.4L423.6,1014.9L431.6,1014.5L439.6,1014.0L447.6,1013.6L455.6,1013.1L463.6,1012.7L471.7,1012.3L479.7,1011.8L487.7,1011.4L495.7,1010.9L503.7,1010.5L511.7,1010.0L519.8,1009.6L527.8,1009.2L535.8,1008.7L543.8,1008.3L551.8,1007.8L559.8,1007.4L567.9,1006.9L575.9,1006.5L583.9,1006.0L591.9,1005.5L599.9,1005.1L607.9,1004.6L615.9,1004.1L624.0,1003.7L632.0,1003.2L640.0,1002.7L648.0,1002.2L656.0,1001.7L664.0,1001.2L672.0,1000.7L680.0,1000.2L688.0,999.7L696.1,999.2L704.1,998.7L712.1,998.2L720.1,997.6L728.1,997.1L736.1,996.5L744.1,996.0L752.1,995.4L760.1,994.9L768.1,994.3L776.1,993.7L784.1,993.1L792.1,992.5L800.2,991.9L808.2,991.3L816.2,990.7L824.2,990.1L832.2,989.5L840.2,988.8L848.2,988.2L856.2,987.5L864.2,986.8L872.2,986.1L880.2,985.5L888.2,984.8L896.2,984.0L904.2,983.3L912.2,982.6L920.2,981.9L928.2,981.1L936.2,980.3L944.2,979.6L952.2,978.8L960.1,978.0L968.1,977.2L976.1,976.3L984.1,975.5L992.1,974.7L1000.1,973.8L1008.1,972.9L1016.1,972.0L1024.1,971.1L1032.1,970.2L1040.1,969.3L1048.0,968.4L1056.0,967.4L1064.0,966.4L1072.0,965.5L1080.0,964.5L1088.0,963.4L1096.0,962.4L1103.9,961.4L1111.9,960.3L1119.9,959.2L1127.9,958.1L1135.9,957.0L1143.8,955.9L1151.8,954.7L1159.8,953.6L1167.7,952.3L1175.7,951.1L1183.6,949.9L1191.6,948.6L1199.5,947.3L1207.5,945.9L1215.4,944.5L1223.3,943.1L1231.2,941.7L1239.1,940.2L1247.0,938.7L1254.9,937.2L1262.7,935.6L1270.6,934.0L1278.5,932.3L1286.3,930.6L1294.1,928.8L1301.9,927.0L1309.7,925.2L1317.5,923.3L1325.3,921.4L1333.0,919.4L1340.8,917.4L1348.5,915.3L1356.2,913.1L1363.9,910.9L1371.6,908.7L1379.2,906.4L1386.9,904.0L1394.5,901.6L1402.1,899.1L1409.7,896.6L1417.2,894.0L1424.8,891.3L1432.3,888.6L1439.8,885.8L1447.3,883.0L1454.7,880.0L1462.2,877.1L1469.6,874.0L1477.0,870.8L1484.3,867.6L1491.7,864.4L1499.0,861.0L1506.3,857.6L1513.5,854.1L1520.8,850.6L1528.0,847.1L1535.2,843.4L1542.4,839.8L1549.6,836.1L1556.7,832.4L1563.9,828.6L1571.0,824.9L1578.1,821.1L1585.2,817.2L1592.2,813.3L1599.3,809.4L1606.3,805.5L1613.3,801.5L1620.2,797.5L1627.1,793.4L1634.0,789.3L1640.9,785.1L1647.7,780.9L1654.6,776.7L1661.3,772.3L1668.0,768.0L1674.7,763.5L1681.4,759.0L1688.0,754.5L1694.6,749.9L1701.1,745.2L1707.6,740.5L1714.0,735.7L1720.4,730.8L1726.7,725.9L1732.9,720.9L1739.2,715.8L1745.3,710.7L1751.4,705.5L1757.5,700.3L1763.4,695.0L1769.4,689.6L1775.2,684.2L1781.0,678.6L1786.7,673.1L1792.4,667.4L1797.9,661.7L1803.4,655.9L1808.9,650.0L1814.2,644.1L1819.5,638.1L1824.7,632.0L1829.8,625.8L1834.8,619.6L1839.8,613.3L1844.7,607.0L1849.4,600.5L1854.1,594.0L1858.8,587.5L1863.3,580.8L1867.8,574.2L1872.2,567.4L1876.5,560.6L1880.7,553.8L1884.8,546.9L1888.9,539.9L1892.9,532.9L1896.8,525.9L1900.6,518.8L1904.3,511.6L1908.0,504.4L1911.6,497.2L1915.1,490.0L1918.5,482.7L1921.9,475.4L1925.2,468.0L1928.4,460.6L1931.5,453.2L1934.5,445.8L1937.5,438.3L1940.4,430.8L1943.2,423.3L1946.0,415.8L1948.7,408.2L1951.3,400.6L1953.8,393.0L1956.3,385.4L1958.7,377.8L1961.1,370.1L1963.4,362.4L1965.6,354.7L1967.8,347.0L1969.9,339.2L1972.0,331.5L1974.0,323.7L1976.0,315.9L1977.9,308.1L1979.7,300.3L1981.5,292.5L1983.3,284.7L1985.0,276.8L1986.7,268.9L1988.4,261.1L1990.0,253.2L1991.5,245.3L1993.0,237.4L1994.5,229.5L1996.0,221.6L1997.4,213.7L1998.8,205.7L2000.1,197.8L2001.5,189.9L2002.8,181.9L2004.0,174.0L2005.3,166.0L2006.5,158.1L2007.7,150.1L2008.9,142.2L2010.0,134.2L2011.2,126.3L2012.3,118.3L2013.4,110.4L2014.5,102.5L2015.6,94.5L2016.7,86.6L2017.8,78.7L2018.8,70.7L2019.9,62.8L2020.9,54.9L2022.0,47.0"/>
<path stroke="#DAD4F4" d="M1699.7,1270.5L1702.2,1262.8L1704.6,1255.1L1707.0,1247.3L1709.4,1239.6L1711.7,1231.8L1714.0,1224.1L1716.4,1216.3L1718.6,1208.6L1720.9,1200.8L1723.2,1193.0L1725.4,1185.2L1727.6,1177.5L1729.8,1169.7L1732.0,1161.9L1734.2,1154.1L1736.3,1146.3L1738.5,1138.5L1740.6,1130.7L1742.7,1122.9L1744.8,1115.0L1746.9,1107.2L1749.0,1099.4L1751.1,1091.6L1753.2,1083.8L1755.3,1075.9L1757.4,1068.1L1759.4,1060.3L1761.5,1052.5L1763.6,1044.6L1765.6,1036.8L1767.7,1029.0L1769.8,1021.2L1771.9,1013.3L1774.0,1005.5L1776.1,997.7L1778.2,989.9L1780.3,982.1L1782.4,974.3L1784.5,966.5L1786.6,958.6L1788.7,950.8L1790.8,943.0L1792.9,935.2L1795.0,927.4L1797.0,919.6L1799.1,911.7L1801.1,903.9L1803.1,896.1L1805.2,888.2L1807.1,880.4L1809.1,872.6L1811.1,864.7L1813.1,856.9L1815.1,849.0L1817.0,841.2L1819.0,833.3L1821.0,825.5L1823.0,817.7L1825.0,809.8L1827.1,802.0L1829.1,794.1L1831.1,786.3L1833.1,778.5L1835.2,770.6L1837.2,762.8L1839.3,755.0L1841.3,747.1L1843.3,739.3L1845.4,731.5L1847.4,723.6L1849.5,715.8L1851.5,708.0L1853.6,700.2L1855.6,692.3L1857.7,684.5L1859.7,676.7L1861.7,668.8L1863.8,661.0L1865.8,653.2L1867.8,645.3L1869.9,637.5L1871.9,629.6L1873.9,621.8L1875.9,614.0L1877.9,606.1L1879.9,598.3L1881.9,590.4L1883.9,582.6L1885.9,574.7L1887.9,566.9L1889.9,559.0L1891.8,551.2L1893.8,543.3L1895.7,535.5L1897.6,527.6L1899.6,519.7L1901.5,511.9L1903.4,504.0L1905.3,496.1L1907.2,488.3L1909.1,480.4L1911.0,472.5L1912.9,464.7L1914.7,456.8L1916.6,448.9L1918.5,441.1L1920.4,433.2L1922.3,425.3L1924.2,417.4L1926.0,409.6L1927.9,401.7L1929.8,393.8L1931.7,386.0L1933.6,378.1L1935.5,370.2L1937.5,362.4L1939.4,354.5L1941.3,346.7L1943.3,338.8L1945.2,330.9L1947.2,323.1L1949.1,315.2L1951.1,307.4L1953.1,299.6L1955.1,291.7L1957.1,283.9L1959.1,276.0L1961.2,268.2L1963.2,260.4L1965.2,252.5L1967.2,244.7L1969.2,236.8L1971.2,229.0L1973.2,221.2L1975.2,213.3L1977.1,205.4L1979.1,197.6L1981.0,189.7L1982.9,181.9L1984.8,174.0L1986.6,166.1L1988.4,158.2L1990.2,150.3L1992.0,142.4L1993.7,134.5L1995.4,126.6L1997.1,118.7L1998.7,110.8L2000.3,102.8L2001.8,94.9L2003.3,86.9L2004.8,79.0L2006.2,71.0L2007.5,63.0L2008.8,55.0L2010.0,47.0"/>
<path stroke="#FFC800" d="M1557.3,1273.7L1560.8,1266.4L1564.2,1259.1L1567.6,1251.8L1571.1,1244.6L1574.5,1237.3L1577.9,1230.0L1581.4,1222.7L1584.8,1215.4L1588.2,1208.1L1591.6,1200.8L1595.0,1193.5L1598.4,1186.2L1601.9,1178.9L1605.3,1171.6L1608.7,1164.3L1612.1,1157.0L1615.5,1149.7L1618.8,1142.4L1622.2,1135.1L1625.6,1127.8L1629.0,1120.5L1632.4,1113.2L1635.8,1105.9L1639.2,1098.6L1642.5,1091.2L1645.9,1083.9L1649.3,1076.6L1652.7,1069.3L1656.1,1062.0L1659.4,1054.7L1662.8,1047.4L1666.2,1040.1L1669.6,1032.8L1672.9,1025.4L1676.3,1018.1L1679.7,1010.8L1683.1,1003.5L1686.4,996.2L1689.8,988.9L1693.2,981.6L1696.6,974.3L1699.9,967.0L1703.3,959.7L1706.7,952.3L1710.1,945.0L1713.5,937.7L1716.9,930.4L1720.2,923.1L1723.6,915.8L1727.0,908.5L1730.4,901.2L1733.8,893.9L1737.2,886.6L1740.6,879.3L1744.0,872.0L1747.4,864.7L1750.8,857.4L1754.2,850.1L1757.7,842.8L1761.1,835.5L1764.5,828.3L1767.9,821.0L1771.3,813.7L1774.8,806.4L1778.2,799.1L1781.6,791.8L1785.0,784.5L1788.5,777.2L1791.9,769.9L1795.3,762.6L1798.7,755.3L1802.1,748.0L1805.5,740.7L1808.9,733.4L1812.3,726.1L1815.7,718.8L1819.0,711.5L1822.4,704.2L1825.8,696.9L1829.1,689.5L1832.4,682.2L1835.8,674.9L1839.1,667.5L1842.4,660.2L1845.7,652.8L1848.9,645.5L1852.2,638.1L1855.5,630.8L1858.7,623.4L1861.9,616.0L1865.1,608.6L1868.3,601.2L1871.5,593.8L1874.6,586.4L1877.8,579.0L1880.9,571.6L1884.0,564.1L1887.0,556.7L1890.1,549.2L1893.1,541.8L1896.1,534.3L1899.1,526.8L1902.1,519.3L1905.0,511.8L1908.0,504.3L1910.8,496.8L1913.7,489.2L1916.6,481.7L1919.4,474.1L1922.2,466.6L1924.9,459.0L1927.7,451.4L1930.4,443.8L1933.1,436.2L1935.7,428.6L1938.4,421.0L1941.0,413.4L1943.5,405.7L1946.1,398.1L1948.6,390.4L1951.0,382.8L1953.5,375.1L1955.9,367.4L1958.3,359.7L1960.6,352.0L1962.9,344.3L1965.2,336.6L1967.5,328.9L1969.7,321.1L1971.9,313.4L1974.0,305.6L1976.1,297.8L1978.2,290.1L1980.2,282.3L1982.2,274.5L1984.2,266.7L1986.1,258.9L1988.0,251.0L1989.8,243.2L1991.6,235.4L1993.4,227.5L1995.1,219.6L1996.8,211.8L1998.4,203.9L2000.0,196.0L2001.6,188.1L2003.1,180.2L2004.5,172.3L2006.0,164.4L2007.3,156.5L2008.7,148.5L2010.0,140.6L2011.2,132.6L2012.4,124.6L2013.6,116.7L2014.7,108.7L2015.7,100.7L2016.8,92.7L2017.7,84.7L2018.6,76.7L2019.5,68.6L2020.3,60.6L2021.1,52.6L2021.8,44.5"/>
<path stroke="#00A650" d="M1438.7,1270.5L1442.5,1263.4L1446.3,1256.3L1450.0,1249.2L1453.7,1242.0L1457.3,1234.9L1461.0,1227.7L1464.6,1220.5L1468.2,1213.3L1471.7,1206.0L1475.3,1198.8L1478.8,1191.5L1482.3,1184.3L1485.7,1177.0L1489.2,1169.7L1492.6,1162.4L1496.0,1155.1L1499.4,1147.8L1502.8,1140.4L1506.2,1133.1L1509.6,1125.8L1512.9,1118.4L1516.3,1111.1L1519.6,1103.7L1522.9,1096.3L1526.3,1089.0L1529.6,1081.6L1532.9,1074.2L1536.2,1066.9L1539.5,1059.5L1542.9,1052.1L1546.2,1044.7L1549.5,1037.4L1552.8,1030.0L1556.2,1022.7L1559.5,1015.3L1562.9,1007.9L1566.3,1000.6L1569.6,993.3L1573.0,985.9L1576.4,978.6L1579.9,971.3L1583.3,964.0L1586.7,956.7L1590.2,949.4L1593.7,942.1L1597.2,934.9L1600.8,927.6L1604.3,920.4L1607.9,913.2L1611.5,906.0L1615.2,898.8L1618.8,891.6L1622.6,884.4L1626.3,877.3L1630.1,870.2L1633.9,863.1L1637.7,856.0L1641.6,848.9L1645.5,841.9L1649.4,834.9L1653.4,827.9L1657.4,820.9L1661.5,814.0L1665.6,807.0L1669.7,800.1L1673.8,793.2L1678.0,786.3L1682.2,779.5L1686.4,772.6L1690.7,765.8L1695.0,758.9L1699.3,752.1L1703.6,745.3L1708.0,738.5L1712.3,731.7L1716.7,725.0L1721.1,718.2L1725.5,711.5L1730.0,704.7L1734.4,698.0L1738.9,691.3L1743.4,684.6L1747.8,677.8L1752.3,671.1L1756.8,664.4L1761.3,657.7L1765.8,651.0L1770.3,644.3L1774.8,637.6L1779.3,630.8L1783.7,624.1L1788.2,617.4L1792.6,610.6L1797.1,603.9L1801.5,597.1L1805.9,590.3L1810.2,583.5L1814.6,576.7L1818.9,569.9L1823.2,563.0L1827.5,556.2L1831.7,549.3L1836.0,542.4L1840.1,535.5L1844.3,528.6L1848.4,521.6L1852.5,514.7L1856.6,507.7L1860.7,500.7L1864.7,493.7L1868.6,486.7L1872.6,479.6L1876.4,472.6L1880.3,465.5L1884.1,458.4L1887.9,451.3L1891.6,444.1L1895.3,437.0L1899.0,429.8L1902.6,422.6L1906.1,415.4L1909.7,408.1L1913.1,400.9L1916.5,393.6L1919.9,386.3L1923.2,379.0L1926.5,371.6L1929.7,364.2L1932.9,356.8L1936.0,349.4L1939.0,342.0L1942.0,334.5L1945.0,327.0L1947.9,319.5L1950.7,311.9L1953.4,304.4L1956.1,296.8L1958.8,289.2L1961.4,281.5L1963.9,273.9L1966.4,266.2L1968.8,258.5L1971.1,250.7L1973.4,243.0L1975.6,235.2L1977.8,227.5L1979.9,219.7L1982.0,211.8L1984.0,204.0L1985.9,196.2L1987.8,188.3L1989.6,180.4L1991.4,172.5L1993.1,164.6L1994.7,156.7L1996.3,148.8L1997.8,140.8L1999.3,132.9L2000.7,124.9L2002.1,117.0L2003.4,109.0L2004.6,101.0L2005.8,93.0L2007.0,85.0L2008.0,77.0L2009.1,69.0L2010.0,61.0L2010.9,53.0L2011.8,45.0"/>
<path stroke="#0096D6" d="M1499.5,1267.5L1503.2,1260.3L1506.9,1253.1L1510.6,1245.9L1514.2,1238.7L1517.9,1231.5L1521.5,1224.2L1525.0,1217.0L1528.6,1209.7L1532.1,1202.4L1535.6,1195.1L1539.1,1187.8L1542.5,1180.5L1546.0,1173.2L1549.4,1165.8L1552.8,1158.5L1556.2,1151.1L1559.6,1143.8L1562.9,1136.4L1566.3,1129.1L1569.6,1121.7L1572.9,1114.3L1576.2,1106.9L1579.5,1099.5L1582.8,1092.1L1586.1,1084.7L1589.4,1077.3L1592.7,1069.9L1596.0,1062.5L1599.2,1055.1L1602.5,1047.7L1605.8,1040.2L1609.0,1032.8L1612.3,1025.4L1615.6,1018.0L1618.9,1010.6L1622.1,1003.2L1625.4,995.8L1628.7,988.3L1632.0,980.9L1635.3,973.5L1638.6,966.1L1641.9,958.8L1645.2,951.4L1648.6,944.0L1651.9,936.6L1655.3,929.2L1658.7,921.9L1662.1,914.5L1665.5,907.2L1669.0,899.9L1672.4,892.6L1675.9,885.3L1679.4,878.0L1683.0,870.7L1686.5,863.5L1690.1,856.2L1693.8,849.0L1697.4,841.8L1701.1,834.6L1704.8,827.4L1708.6,820.2L1712.3,813.1L1716.1,805.9L1719.9,798.8L1723.8,791.7L1727.6,784.6L1731.5,777.5L1735.4,770.4L1739.3,763.3L1743.2,756.3L1747.1,749.2L1751.1,742.2L1755.1,735.1L1759.0,728.1L1763.0,721.0L1767.0,714.0L1771.0,707.0L1775.0,699.9L1779.0,692.9L1783.0,685.9L1787.0,678.9L1791.1,671.8L1795.1,664.8L1799.1,657.8L1803.1,650.8L1807.1,643.7L1811.1,636.7L1815.1,629.6L1819.1,622.6L1823.0,615.5L1827.0,608.5L1831.0,601.4L1834.9,594.3L1838.8,587.3L1842.7,580.2L1846.6,573.1L1850.5,565.9L1854.3,558.8L1858.2,551.7L1862.0,544.5L1865.8,537.4L1869.5,530.2L1873.3,523.0L1877.0,515.8L1880.7,508.6L1884.4,501.3L1888.0,494.1L1891.6,486.8L1895.2,479.5L1898.7,472.3L1902.2,464.9L1905.7,457.6L1909.2,450.3L1912.6,442.9L1916.0,435.6L1919.3,428.2L1922.6,420.8L1925.9,413.4L1929.2,406.0L1932.4,398.5L1935.5,391.1L1938.7,383.6L1941.8,376.2L1944.8,368.7L1947.8,361.2L1950.8,353.6L1953.7,346.1L1956.6,338.5L1959.4,331.0L1962.2,323.4L1965.0,315.8L1967.7,308.2L1970.3,300.5L1972.9,292.9L1975.5,285.2L1978.0,277.6L1980.4,269.9L1982.8,262.2L1985.2,254.5L1987.5,246.7L1989.7,239.0L1991.9,231.2L1994.1,223.4L1996.2,215.6L1998.2,207.8L2000.2,200.0L2002.1,192.1L2003.9,184.3L2005.7,176.4L2007.5,168.5L2009.1,160.6L2010.8,152.7L2012.3,144.7L2013.8,136.8L2015.2,128.8L2016.6,120.8L2017.9,112.8L2019.1,104.8L2020.3,96.8L2021.4,88.7L2022.4,80.7L2023.4,72.6L2024.3,64.5L2025.1,56.4L2025.8,48.2L2026.5,40.1"/>
<path stroke="#FF8A30" d="M1812.5,1278.8L1814.3,1270.9L1816.0,1263.0L1817.8,1255.1L1819.5,1247.2L1821.3,1239.3L1823.0,1231.4L1824.7,1223.5L1826.5,1215.6L1828.2,1207.7L1829.9,1199.8L1831.6,1191.9L1833.3,1184.0L1834.9,1176.1L1836.6,1168.2L1838.3,1160.3L1839.9,1152.3L1841.6,1144.4L1843.2,1136.5L1844.9,1128.6L1846.5,1120.7L1848.1,1112.7L1849.7,1104.8L1851.4,1096.9L1853.0,1089.0L1854.6,1081.0L1856.2,1073.1L1857.8,1065.2L1859.3,1057.3L1860.9,1049.3L1862.5,1041.4L1864.0,1033.5L1865.6,1025.5L1867.2,1017.6L1868.7,1009.7L1870.2,1001.7L1871.8,993.8L1873.3,985.8L1874.8,977.9L1876.4,969.9L1877.9,962.0L1879.4,954.1L1880.9,946.1L1882.4,938.2L1883.9,930.2L1885.4,922.3L1886.9,914.3L1888.4,906.4L1889.9,898.4L1891.3,890.5L1892.8,882.5L1894.3,874.6L1895.7,866.6L1897.2,858.6L1898.7,850.7L1900.1,842.7L1901.6,834.8L1903.0,826.8L1904.5,818.9L1905.9,810.9L1907.3,802.9L1908.8,795.0L1910.2,787.0L1911.6,779.1L1913.0,771.1L1914.5,763.1L1915.9,755.2L1917.3,747.2L1918.7,739.2L1920.1,731.3L1921.5,723.3L1922.9,715.3L1924.3,707.4L1925.7,699.4L1927.1,691.4L1928.5,683.5L1929.9,675.5L1931.3,667.5L1932.7,659.6L1934.1,651.6L1935.5,643.6L1936.9,635.7L1938.3,627.7L1939.7,619.7L1941.0,611.8L1942.4,603.8L1943.8,595.8L1945.2,587.8L1946.6,579.9L1948.0,571.9L1949.3,563.9L1950.7,556.0L1952.1,548.0L1953.5,540.0L1954.8,532.0L1956.2,524.1L1957.6,516.1L1959.0,508.1L1960.3,500.2L1961.7,492.2L1963.1,484.2L1964.5,476.2L1965.8,468.3L1967.2,460.3L1968.6,452.3L1970.0,444.4L1971.4,436.4L1972.7,428.4L1974.1,420.4L1975.5,412.5L1976.9,404.5L1978.2,396.5L1979.6,388.6L1981.0,380.6L1982.4,372.6L1983.7,364.7L1985.1,356.7L1986.5,348.7L1987.9,340.7L1989.2,332.8L1990.6,324.8L1992.0,316.8L1993.3,308.9L1994.7,300.9L1996.0,292.9L1997.4,284.9L1998.7,277.0L2000.1,269.0L2001.4,261.0L2002.8,253.0L2004.1,245.1L2005.5,237.1L2006.8,229.1L2008.1,221.1L2009.4,213.1L2010.8,205.2L2012.1,197.2L2013.4,189.2L2014.7,181.2L2016.0,173.2L2017.3,165.3L2018.6,157.3L2019.9,149.3L2021.1,141.3L2022.4,133.3L2023.7,125.3L2024.9,117.3L2026.2,109.4L2027.4,101.4L2028.7,93.4L2029.9,85.4L2031.2,77.4L2032.4,69.4L2033.6,61.4L2034.8,53.4L2036.0,45.4"/>
</g>
<g class="ax" stroke="#0b0d0b">
<line x1="2060.8" y1="800" x2="2060.8" y2="954.1" stroke-width="10.2"/>
<polyline points="2039.7,840.7 2060.7,800.7 2081.7,840.7" stroke-width="10" stroke-linejoin="miter" stroke-miterlimit="10"/>
</g>
<defs><clipPath id="k1"><path d="M2,-56H25.33V-6.73H24.90V1H18.36V-6.73H2Z"/></clipPath></defs>
<text class="t" transform="translate(204.5,1345.7) scale(1,1.020)">-0.8</text>
<text class="t" transform="translate(419.4,1348.6) scale(1,1.020)">-0.7</text>
<text class="t" transform="translate(639.5,1349.6) scale(1,1.020)">-0.6</text>
<text class="t" transform="translate(861.0,1349.2) scale(1,1.020)">-0.5</text>
<text class="t" transform="translate(1079.5,1348.0) scale(1,1.020)">-0.4</text>
<text class="t" transform="translate(1297.3,1347.0) scale(1,1.020)">-0.3</text>
<text class="t" transform="translate(1514.8,1348.5) scale(1,1.020)">-0.2</text>
<text class="t" transform="translate(1737.0,1347.9) scale(1,1.020)">-0.</text>
<text class="t" transform="translate(1993.4,1349.6) scale(1,1.020)">0</text>
<text class="t" transform="translate(2157.3,1349.1) scale(1,1.020)">0.</text>
<g transform="translate(1825.1,1347.9) scale(1,1.020)" clip-path="url(#k1)"><text class="t">1</text></g>
<g transform="translate(2220.0,1349.1) scale(1,1.020)" clip-path="url(#k1)"><text class="t">1</text></g>
<text class="t" transform="translate(204.4,75.4) scale(1,1.020)">0</text>
<text class="t" transform="translate(137.1,485.8) scale(1,1.020)">-0.</text>
<text class="t" transform="translate(125.2,893.0) scale(1,1.020)">-0.2</text>
<text class="t" transform="translate(123.3,1287.0) scale(1,1.020)">-0.3</text>
<g transform="translate(225.7,485.8) scale(1,1.020)" clip-path="url(#k1)"><text class="t">1</text></g>
<text class="l" transform="translate(973.3,1447.3) scale(1,1.010)">Voltage [V]</text>
<text class="l" transform="translate(85.1,939) rotate(-90) scale(1,1.01)">Current [mA]</text>
<text class="l in" transform="translate(329.6,175.7) scale(1,1.035)">70-300 K</text>
<text class="l in" transform="translate(335.6,301.4) scale(1,1.035)">|I<tspan font-size="43" dy="17.4">d</tspan><tspan dy="-17.4">|&lt;0.3 mA</tspan></text>
<text class="in" transform="translate(2112.7,953.0) scale(1,1.035)" font-size="111">T</text>
<g font-size="81" style="font-family:'Liberation Serif','Times New Roman',serif"><text transform="translate(1089,1576) scale(0.87,1)">(</text><text x="1114.7" y="1575.1" font-weight="bold">a</text><text transform="translate(1154.2,1576) scale(0.87,1)">)</text></g>
</svg></body></html>
